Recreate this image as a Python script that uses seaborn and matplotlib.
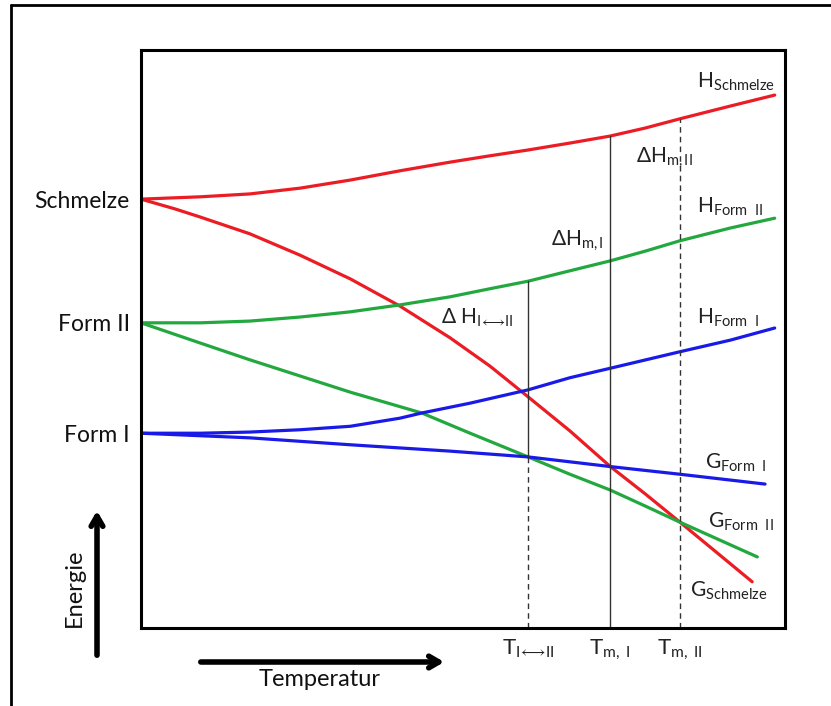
import matplotlib
matplotlib.use("Agg")
import matplotlib.pyplot as plt
import seaborn as sns
import pandas as pd
from matplotlib.lines import Line2D

sns.set_theme(style="white")
plt.rcParams['font.family'] = ['Lato', 'DejaVu Sans']
plt.rcParams['mathtext.fontset'] = 'custom'
plt.rcParams['mathtext.rm'] = 'Lato'
plt.rcParams['mathtext.it'] = 'Lato:italic'
plt.rcParams['mathtext.bf'] = 'Lato:bold'

# ---- data (Temperatur T, Energie E; arbitrary units 0..100) ----
T_h_schmelze = [0, 9.2, 16.9, 24.7, 32.5, 40.2, 48.0, 54.2, 60.1, 66.6, 72.8, 78.3, 83.7, 91.5, 98.4]
E_h_schmelze = [74.2, 74.6, 75.1, 76.1, 77.5, 79.1, 80.6, 81.7, 82.7, 83.9, 85.1, 86.5, 88.1, 90.3, 92.2]

T_g_schmelze = [0, 5.3, 9.2, 16.9, 24.7, 32.5, 40.2, 48.0, 54.2, 60.1, 66.6, 72.8, 78.3, 83.7, 89.9, 94.9]
E_g_schmelze = [74.2, 72.5, 71.1, 68.2, 64.5, 60.4, 55.7, 50.2, 45.3, 40.0, 34.1, 28.0, 23.2, 18.3, 12.6, 8.0]

T_h_form2 = [0, 9.2, 16.9, 24.7, 32.5, 40.2, 48.0, 54.2, 60.1, 66.6, 72.8, 78.3, 83.7, 91.5, 98.4]
E_h_form2 = [52.8, 52.8, 53.1, 53.8, 54.7, 55.9, 57.3, 58.7, 60.0, 61.8, 63.5, 65.2, 67.0, 69.2, 70.9]

T_g_form2 = [0, 9.2, 16.9, 24.7, 32.5, 43.6, 51.1, 60.1, 66.6, 72.8, 78.3, 83.7, 89.9, 95.7]
E_g_form2 = [52.8, 49.3, 46.4, 43.6, 40.8, 37.2, 33.7, 29.6, 26.6, 23.9, 21.1, 18.3, 15.2, 12.3]

T_h_form1 = [0, 9.2, 16.9, 24.7, 32.5, 40.2, 43.6, 51.1, 60.1, 66.6, 73.1, 83.7, 91.5, 98.4]
E_h_form1 = [33.7, 33.7, 33.9, 34.3, 34.9, 36.3, 37.2, 38.9, 41.2, 43.3, 45.0, 47.8, 49.8, 51.9]

T_g_form1 = [0, 16.9, 32.5, 48.0, 60.1, 73.1, 83.7, 96.9]
E_g_form1 = [33.7, 32.9, 31.7, 30.6, 29.6, 27.9, 26.6, 24.9]

y_tick_pos = [74.2, 52.8, 33.7]
y_tick_labels = ["Schmelze", "Form II", "Form I"]

x_tick_pos = [60.1, 72.8, 83.7]
x_tick_labels = [r"T$_{\mathrm{I}\!\longleftrightarrow\!\mathrm{II}}$",
                 r"T$_{\mathrm{m,\ I}}$", r"T$_{\mathrm{m,\ II}}$"]
v_top = [60.0, 85.1, 88.1]
v_break = [29.6, 27.9, 18.3]

curves = {
    "H_Schmelze": (T_h_schmelze, E_h_schmelze),
    "G_Schmelze": (T_g_schmelze, E_g_schmelze),
    "H_Form II": (T_h_form2, E_h_form2),
    "G_Form II": (T_g_form2, E_g_form2),
    "H_Form I": (T_h_form1, E_h_form1),
    "G_Form I": (T_g_form1, E_g_form1),
}
rows = []
for name, (ts, es) in curves.items():
    for t, e in zip(ts, es):
        rows.append({"curve": name, "T": t, "E": e})
df = pd.DataFrame(rows)

red, green, blue = "#ec1c24", "#22a83f", "#1a1ae8"
palette = {"H_Schmelze": red, "G_Schmelze": red,
           "H_Form II": green, "G_Form II": green,
           "H_Form I": blue, "G_Form I": blue}

fig = plt.figure(figsize=(8.31, 7.06), dpi=100)
ax = fig.add_axes([141/831, 78/706, 644/831, 578/706])

sns.lineplot(data=df, x="T", y="E", hue="curve", palette=palette,
             estimator=None, sort=True, lw=2.3, legend=False, ax=ax)

# vertical marker lines
ax.plot([x_tick_pos[0]]*2, [v_break[0], v_top[0]], color="#333333", lw=1.0)
ax.plot([x_tick_pos[0]]*2, [0, v_break[0]], color="#333333", lw=1.0, ls=(0, (4, 3)))
ax.plot([x_tick_pos[1]]*2, [0, v_top[1]], color="#333333", lw=1.0)
ax.plot([x_tick_pos[2]]*2, [0, v_top[2]], color="#333333", lw=1.0, ls=(0, (4, 3)))

ax.set_xlim(0, 100)
ax.set_ylim(0, 100)
for s in ax.spines.values():
    s.set_linewidth(2.2)
    s.set_color("black")
ax.set_xticks(x_tick_pos)
ax.set_xticklabels(x_tick_labels, fontsize=16, color="#222222")
ax.set_yticks(y_tick_pos)
ax.set_yticklabels(y_tick_labels, fontsize=16.5, color="#111111")
ax.tick_params(axis="both", length=0)
ax.tick_params(axis="y", pad=8)
ax.tick_params(axis="x", pad=7)
ax.set_xlabel("")
ax.set_ylabel("")

lab_fs = 15
labels = [
    (86.3, 94.5, r"H$_{\mathrm{Schmelze}}$"),
    (76.9, 81.3, r"ΔH$_{\mathrm{m,II}}$"),
    (86.3, 72.8, r"H$_{\mathrm{Form\ \ II}}$"),
    (63.7, 67.0, r"ΔH$_{\mathrm{m,I}}$"),
    (46.6, 53.6, r"Δ H$_{\mathrm{I}\!\longleftrightarrow\!\mathrm{II}}$"),
    (86.3, 53.6, r"H$_{\mathrm{Form\ \ I}}$"),
    (87.6, 28.5, r"G$_{\mathrm{Form\ \ I}}$"),
    (88.0, 18.3, r"G$_{\mathrm{Form\ \ II}}$"),
    (85.2, 6.4, r"G$_{\mathrm{Schmelze}}$"),
]
for x, y, s in labels:
    ax.text(x, y, s, fontsize=lab_fs, ha="left", va="center", color="#222222")

# outer frame
fig.add_artist(Line2D([11/831, 11/831], [0, 1 - 5/706], color="black", lw=2, transform=fig.transFigure))
fig.add_artist(Line2D([11/831, 1], [1 - 5/706, 1 - 5/706], color="black", lw=2, transform=fig.transFigure))

# axis arrows
arrow_kw = dict(arrowstyle="->,head_length=0.6,head_width=0.35", lw=4, color="black")
ax.annotate("", xy=(97, 706 - 508), xytext=(97, 706 - 658),
            xycoords="figure pixels", textcoords="figure pixels", arrowprops=arrow_kw)
ax.annotate("", xy=(447, 706 - 662), xytext=(198, 706 - 662),
            xycoords="figure pixels", textcoords="figure pixels", arrowprops=arrow_kw)
fig.text(74/831, 1 - 588/706, "Energie", rotation=90, fontsize=17, ha="center", va="center", color="#111111")
fig.text(320/831, 1 - 679/706, "Temperatur", fontsize=17, ha="center", va="center", color="#111111")

fig.savefig("out.png", dpi=100)
